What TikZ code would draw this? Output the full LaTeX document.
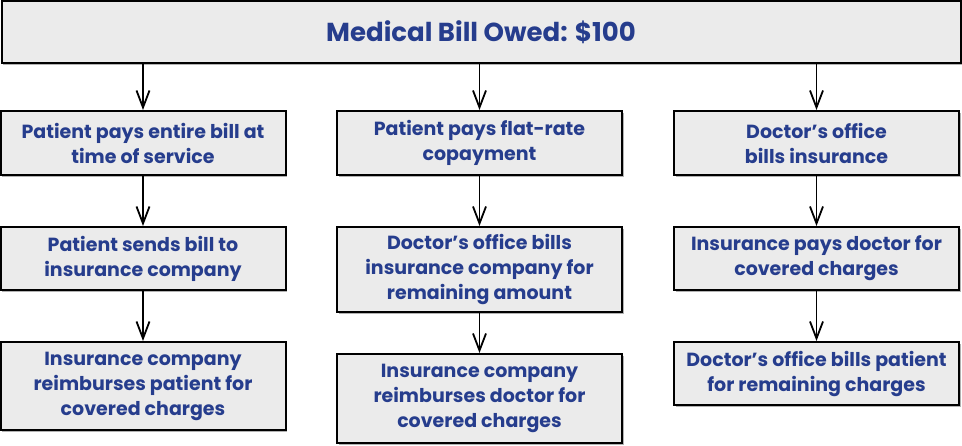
\documentclass[tikz,border=0pt]{standalone}
\usepackage{fontspec}
\setmainfont{Poppins}
\usepackage{xcolor}
\usepackage{tikz}
\usetikzlibrary{arrows.meta, positioning, shadows}
\definecolor{myblue}{RGB}{38, 61, 141}
\definecolor{mygray}{RGB}{235, 235, 235}
\begin{document}
\begin{tikzpicture}[x=1pt, y=-1pt,
    stepbox/.style={rectangle, draw=black, line width=2pt, fill=mygray,
        text=myblue, font=\fontsize{19}{25}\selectfont\bfseries, align=center,
        minimum width=285pt, inner sep=0pt,
        drop shadow={shadow xshift=1.5pt, shadow yshift=-1.5pt, fill=black!30, opacity=1}},
    flow/.style={-{Straight Barb[length=17pt, width=13pt]}, line width=1.8pt}]
    \useasboundingbox (0,0) rectangle (962,445);
    % 账单
    \node[stepbox, minimum width=959pt, minimum height=62pt, font=\fontsize{26}{30}\selectfont\bfseries] (bill) at (481, 32) {Medical Bill Owed: \$100};

    % 第一列
    \node[stepbox, minimum height=64pt] (c1a) at (143, 143) {Patient pays entire bill at\\time of service};
    \node[stepbox, minimum height=63pt] (c1b) at (143, 258.5) {Patient sends bill to\\insurance company};
    \node[stepbox, minimum height=88pt] (c1c) at (143, 386) {Insurance company\\reimburses patient for\\covered charges};

    % 第二列
    \node[stepbox, minimum height=64pt] (c2a) at (479.5, 143) {Patient pays flat-rate\\copayment};
    \node[stepbox, minimum height=85pt] (c2b) at (479.5, 269.5) {Doctor’s office bills\\insurance company for\\remaining amount};
    \node[stepbox, minimum height=89pt] (c2c) at (479.5, 398.5) {Insurance company\\reimburses doctor for\\covered charges};

    % 第三列
    \node[stepbox, minimum height=64pt] (c3a) at (816.5, 143) {Doctor’s office\\bills insurance};
    \node[stepbox, minimum height=63pt] (c3b) at (816.5, 258.5) {Insurance pays doctor for\\covered charges};
    \node[stepbox, minimum height=63pt] (c3c) at (816.5, 373.5) {Doctor’s office bills patient\\for remaining charges};

    \draw[flow] (bill.south -| c1a) -- (c1a);
    \draw[flow] (bill.south -| c2a) -- (c2a);
    \draw[flow] (bill.south -| c3a) -- (c3a);
    \draw[flow] (c1a) -- (c1b);
    \draw[flow] (c1b) -- (c1c);
    \draw[flow] (c2a) -- (c2b);
    \draw[flow] (c2b) -- (c2c);
    \draw[flow] (c3a) -- (c3b);
    \draw[flow] (c3b) -- (c3c);
\end{tikzpicture}
\end{document}
